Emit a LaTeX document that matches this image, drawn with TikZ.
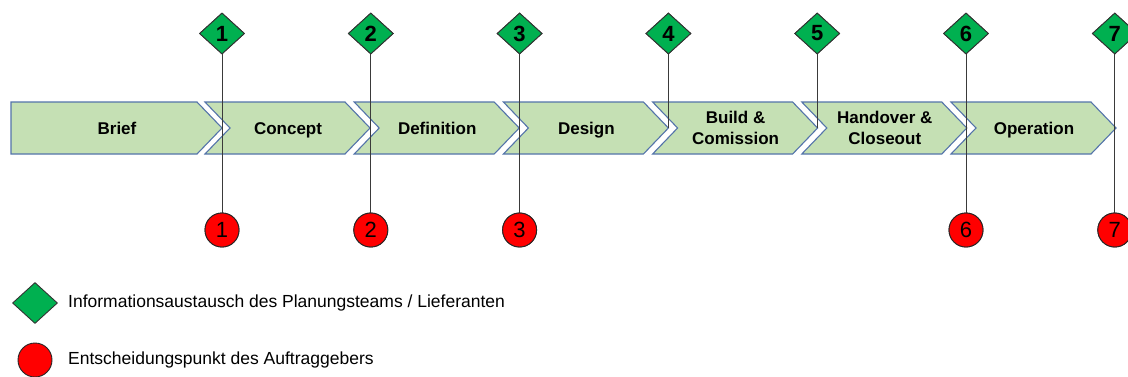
\documentclass[tikz,border=0pt]{standalone}
\usepackage{fontspec}
\setmainfont{Liberation Sans}
\usetikzlibrary{shapes.geometric}
\definecolor{phasefill}{HTML}{C5E0B4}
\definecolor{phaseline}{HTML}{5474AA}
\definecolor{infogreen}{HTML}{00B050}
\definecolor{decred}{HTML}{FF0000}
\definecolor{linkgray}{HTML}{3A3A3A}
\tikzset{
  phase/.style={fill=phasefill, draw=phaseline, line width=1.1pt, line join=miter},
  phasetext/.style={font=\fontsize{17}{21}\selectfont\bfseries, align=center,
    inner sep=0pt, anchor=base},
  infodia/.style={diamond, aspect=1.1, fill=infogreen, draw=black!80, line width=0.9pt,
    minimum width=45pt, minimum height=41pt, inner sep=0pt,
    font=\fontsize{22}{24}\selectfont\bfseries},
  decdot/.style={circle, fill=decred, draw=black!85, line width=0.9pt,
    minimum size=34pt, inner sep=0pt, font=\fontsize{22}{24}\selectfont},
  link/.style={draw=linkgray, line width=1pt},
  legendtext/.style={anchor=west, inner sep=0pt, font=\fontsize{17.5}{21}\selectfont}
}
\begin{document}
\begin{tikzpicture}[x=1pt, y=-1pt]
\useasboundingbox (0,0) rectangle (1128,376);
\clip (0,0) rectangle (1128,376);
\fill[white] (0,0) rectangle (1128,376);

% first phase: flat left end
\draw[phase] (11,102) -- (197,102) -- (222,128) -- (197,154) -- (11,154) -- cycle;
\node[phasetext] (p0) at (117,134) {Brief};

% following phases: notched chevrons (base anchor = baseline of the last line)
\foreach \i/\txt/\by in {1/Concept/134, 2/Definition/134, 3/Design/134,
    4/{Build \&\\Comission}/144.5, 5/{Handover \&\\Closeout}/144.5, 6/Operation/134}{
  \pgfmathsetmacro{\L}{205+149.2*(\i-1)}
  \draw[phase] (\L,102) -- ({\L+140},102) -- ({\L+165},128) -- ({\L+140},154)
     -- (\L,154) -- ({\L+25},128) -- cycle;
  \node[phasetext] (p\i) at ({\L+83},\by) {\txt};
}

% information exchange points at the phase ends
\foreach \i in {1,...,7}{
  \pgfmathsetmacro{\X}{222+148.8*(\i-1)}
  \node[infodia] (d\i) at (\X,33.5) {\i};
  \coordinate (t\i) at (\X,128);
}

% client decision points
\foreach \i in {1,2,3,6,7}{
  \pgfmathsetmacro{\X}{222+148.8*(\i-1)}
  \node[decdot] (c\i) at (\X,230) {\i};
}

% connectors
\foreach \i in {1,2,3,6,7}{
  \draw[link] (d\i) -- (c\i);
}
\draw[link] (d4) -- (t4);
\draw[link] (d5) -- (t5);

% redraw markers above the connectors
\foreach \i in {1,...,7}{
  \pgfmathsetmacro{\X}{222+148.8*(\i-1)}
  \node[infodia] at (\X,33.5) {\i};
}
\foreach \i in {1,2,3,6,7}{
  \pgfmathsetmacro{\X}{222+148.8*(\i-1)}
  \node[decdot] at (\X,230) {\i};
}

% legend
\node[infodia] (ld) at (35,303) {};
\node[legendtext] (lt1) at (68,303) {Informationsaustausch des Planungsteams / Lieferanten};
\node[decdot] (lc) at (35,360) {};
\node[legendtext] (lt2) at (68,360) {Entscheidungspunkt des Auftraggebers};
\end{tikzpicture}
\end{document}
